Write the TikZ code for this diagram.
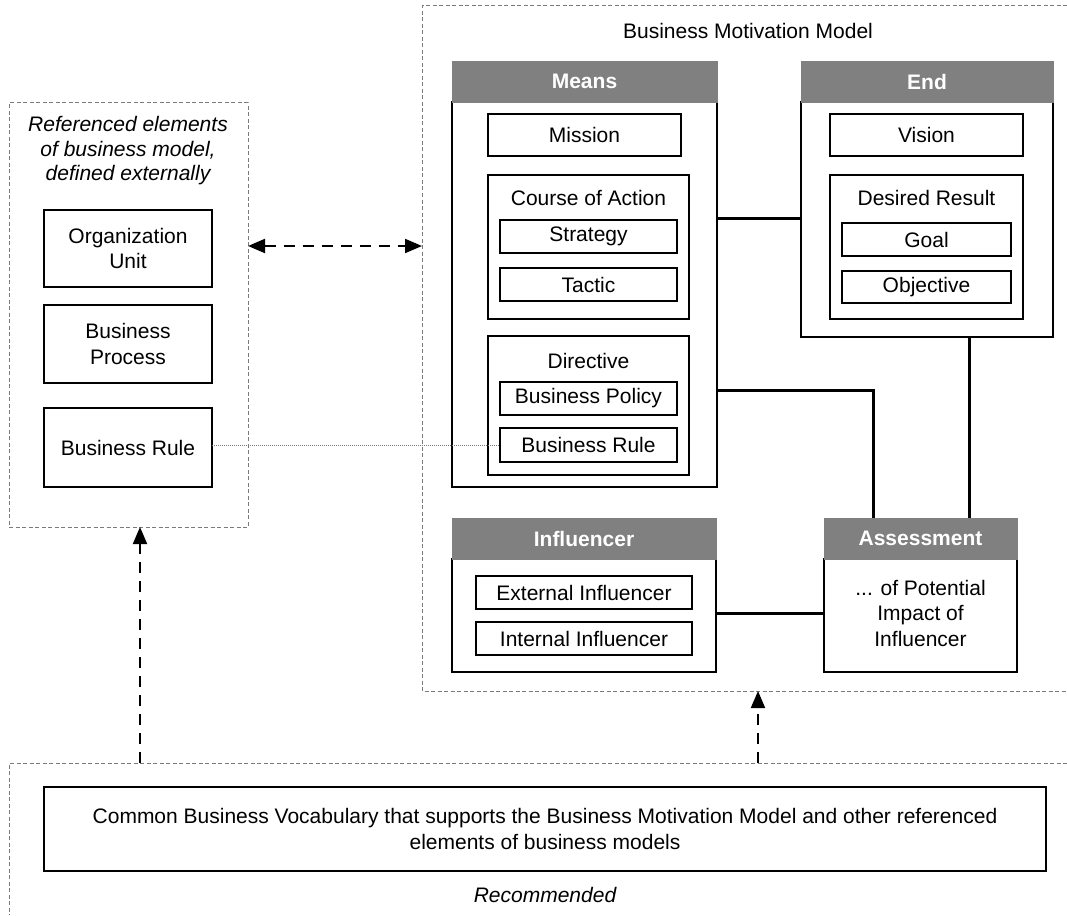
\documentclass[tikz,border=0pt]{standalone}
\usepackage{fontspec}
\setmainfont{Liberation Sans}
\usetikzlibrary{arrows.meta}
\definecolor{hdrgray}{HTML}{808080}
\definecolor{dashgray}{HTML}{7A7A7A}
\begin{document}
\begin{tikzpicture}[x=1pt,y=-1pt,
  every node/.style={font=\fontsize{21}{25.5}\selectfont, inner sep=0pt, outer sep=0pt},
  itxt/.style={font=\fontsize{21}{24.5}\selectfont\itshape, align=center},
  txt/.style={align=center},
  box/.style={draw=black, line width=1.8pt, anchor=north west, fill=white, align=center},
  hdr/.style={fill=hdrgray, draw=hdrgray, line width=0.5pt, text=white,
              font=\fontsize{21}{25.5}\selectfont\bfseries, anchor=north west},
  grp/.style={draw=dashgray, line width=1pt, dash pattern=on 4pt off 2.5pt},
  area/.style={anchor=north west},
  link/.style={line width=3pt},
  dep/.style={line width=2pt, dash pattern=on 11pt off 8pt},
  tip/.style={-{Triangle[length=17pt,width=14pt]}},
  dotl/.style={draw=dashgray, line width=1pt, dash pattern=on 1pt off 1pt}]
\useasboundingbox (0,0) rectangle (1067,915);

% helper coordinates
\coordinate (y246) at (0,246);
\coordinate (y218) at (0,218);
\coordinate (y390) at (0,390);
\coordinate (y613) at (0,613);
\coordinate (x140) at (140,0);
\coordinate (x758) at (758,0);
\coordinate (x873) at (873,0);
\coordinate (x969) at (969,0);

% ---------- left group ----------
\node[grp, area, minimum width=239pt, minimum height=424pt] (ref) at (9,103) {};
\node[itxt] (reftitle) at (128,151) {Referenced elements\\of business model,\\defined externally};
\node[box, minimum width=168pt, minimum height=77pt] (org) at (44,210) {Organization\\Unit};
\node[box, minimum width=168pt, minimum height=78pt] (bproc) at (44,305) {Business\\Process};
\node[box, minimum width=168pt, minimum height=79pt] (brule) at (44,408) {Business Rule};

% ---------- BMM group ----------
\node[area, minimum width=645pt, minimum height=685pt] (bmm) at (422,6) {};
\draw[grp] (bmm.north east) -- (bmm.north west) -- (bmm.south west) -- (bmm.south east);
\node (bmmtitle) at (748,31) {Business Motivation Model};

% Means
\node[box, minimum width=265pt, minimum height=385pt] (means) at (452,102) {};
\node[hdr, minimum width=265pt, minimum height=41pt] (meansh) at (452,61) {Means};
\node[box, minimum width=193pt, minimum height=42pt] (mission) at (488,114) {Mission};
\node[box, minimum width=201pt, minimum height=144pt] (coa) at (488,175) {};
\node (coat) at (588.5,198) {Course of Action};
\node[box, minimum width=177pt, minimum height=33pt] (strategy) at (500,220) {Strategy};
\node[box, minimum width=177pt, minimum height=33pt] (tactic) at (500,268) {Tactic};
\node[box, minimum width=201pt, minimum height=139pt] (directive) at (488,336) {};
\node (dirt) at (588.5,361) {Directive};
\node[box, minimum width=177pt, minimum height=33pt] (bpolicy) at (500,382) {Business Policy};
\node[box, minimum width=177pt, minimum height=34pt] (dbrule) at (500,428) {Business Rule};

% End
\node[box, minimum width=252pt, minimum height=235pt] (endb) at (801,102) {};
\node[hdr, minimum width=252pt, minimum height=41pt] (endh) at (801,61) {End};
\node[box, minimum width=193pt, minimum height=42pt] (vision) at (830,114) {Vision};
\node[box, minimum width=193pt, minimum height=144pt] (desired) at (830,175) {};
\node (dest) at (926.5,198) {Desired Result};
\node[box, minimum width=169pt, minimum height=33pt] (goal) at (842,223) {Goal};
\node[box, minimum width=169pt, minimum height=32pt] (objective) at (842,271) {Objective};

% Influencer
\node[box, minimum width=264pt, minimum height=113pt] (infl) at (452,559) {};
\node[hdr, minimum width=264pt, minimum height=41pt] (inflh) at (452,518) {Influencer};
\node[box, minimum width=216pt, minimum height=33pt] (extinf) at (476,576) {External Influencer};
\node[box, minimum width=216pt, minimum height=33pt] (intinf) at (476,622) {Internal Influencer};

% Assessment
\node[box, minimum width=193pt, minimum height=113pt] (assb) at (824,559) {};
\node[hdr, minimum width=193pt, minimum height=41pt] (assh) at (824,518) {Assessment};
\node[txt] (asst) at (920.5,613) {... of Potential\\Impact of\\Influencer};

% ---------- bottom group ----------
\node[area, minimum width=1058pt, minimum height=152pt] (bot) at (9,763) {};
\draw[grp] (bot.north east) -- (bot.north west) -- (bot.south west);
\node[box, minimum width=1002pt, minimum height=84pt] (vocab) at (44,787)
  {Common Business Vocabulary that supports the Business Motivation Model and other referenced\\elements of business models};
\node[itxt] (recom) at (545,895) {Recommended};

% ---------- connectors ----------
\draw[link] (means.east |- y218) -- (endb.west |- y218);
\draw[link] (means.east |- y390) -| (assh.north -| x873);
\draw[link] (endb.south -| x969) -- (assh.north -| x969);
\draw[link] (infl.east |- y613) -- (assb.west |- y613);
\draw[dotl] (brule.east |- dbrule.west) -- (dbrule.west);
\draw[dep, {Triangle[length=17pt,width=14pt]}-{Triangle[length=17pt,width=14pt]}]
  (ref.east |- y246) -- (bmm.west |- y246);
\draw[dep, tip] (bot.north -| x140) -- (ref.south -| x140);
\draw[dep, tip] (bot.north -| x758) -- (bmm.south -| x758);
\end{tikzpicture}
\end{document}
